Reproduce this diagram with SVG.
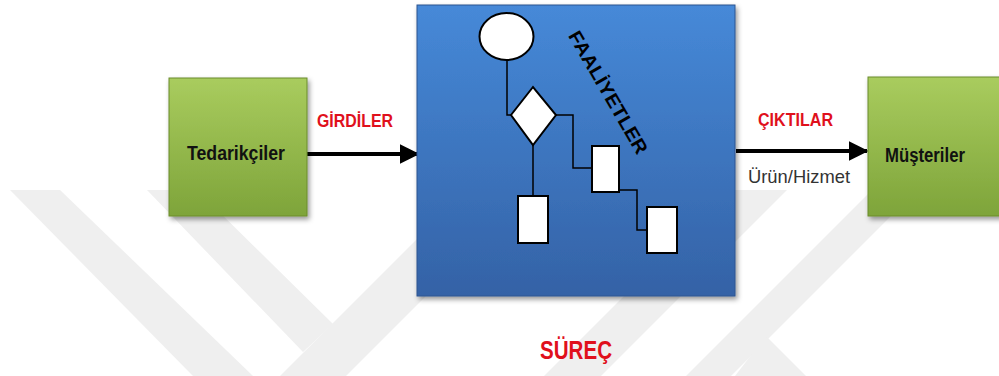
<svg xmlns="http://www.w3.org/2000/svg" width="999" height="376" viewBox="0 0 999 376">
<defs>
<linearGradient id="gGreen" x1="0" y1="0" x2="0" y2="1">
<stop offset="0" stop-color="#a9cc5e"/>
<stop offset="1" stop-color="#7ea43a"/>
</linearGradient>
<linearGradient id="gBlue" x1="0" y1="0" x2="0" y2="1">
<stop offset="0" stop-color="#4689d8"/>
<stop offset="1" stop-color="#3462a6"/>
</linearGradient>
<filter id="sh" x="-10%" y="-10%" width="125%" height="125%">
<feDropShadow dx="2" dy="3" stdDeviation="2.5" flood-color="#000" flood-opacity="0.4"/>
</filter>
<marker id="ah" markerWidth="5" markerHeight="5" refX="4.6" refY="2.5" orient="auto" markerUnits="strokeWidth">
<path d="M0,0 L5,2.5 L0,5 z" fill="#000"/>
</marker>
<style>
.lbl{font-family:"Liberation Sans",Arial,sans-serif;font-weight:bold;}
.red{fill:#e0101c;font-size:19px;}
.box{font-size:20px;fill:#111;}
.shape{fill:#fff;stroke:#000;stroke-width:2;}
.flow{fill:none;stroke:#000;stroke-width:1.5;}
.wm{fill:#efefef;}
</style>
</defs>
<rect width="999" height="376" fill="#fff"/>
<g id="watermark">
<polygon class="wm" points="10,190 60,190 253,376 193,376"/>
<polygon class="wm" points="147,190 197,190 333,324 303,352"/>
<polygon class="wm" points="430,226 430,292 346,376 280,376"/>
<polygon class="wm" points="730,190 787,190 601,376 544,376"/>
<polygon class="wm" points="872,190 917,190 731,376 686,376"/>
<polygon class="wm" points="755,350 767,337 806,376 735,376"/>
</g>
<g id="connectors">
<line x1="307" y1="154" x2="418" y2="154" stroke="#000" stroke-width="4" marker-end="url(#ah)"/>
<line x1="736" y1="151" x2="867" y2="151" stroke="#000" stroke-width="4" marker-end="url(#ah)"/>
</g>
<g id="tedarikciler">
<rect x="169" y="78" width="138" height="138" fill="url(#gGreen)" stroke="#6b8c2c" stroke-width="1" filter="url(#sh)"/>
<text class="lbl box" x="187" y="160" textLength="98" lengthAdjust="spacingAndGlyphs">Tedarikçiler</text>
</g>
<g id="surec">
<rect x="417" y="5" width="318" height="291" fill="url(#gBlue)" stroke="#2d5590" stroke-width="1" filter="url(#sh)"/>
<polyline class="flow" points="507,60 507,115 512,115"/>
<polyline class="flow" points="533,145 533,196"/>
<polyline class="flow" points="556,115 573,115 573,168 592,168"/>
<polyline class="flow" points="619,190 637,190 637,230 647,230"/>
<ellipse class="shape" cx="506.5" cy="36.5" rx="27" ry="23.5"/>
<polygon class="shape" points="511,115 533,87 556,115 533,145"/>
<rect class="shape" x="518" y="196" width="30" height="47"/>
<rect class="shape" x="592" y="146" width="27" height="46"/>
<rect class="shape" x="647" y="207" width="30" height="46"/>
<text class="lbl" x="538" y="93" font-size="19" fill="#000" transform="rotate(60 608 93)" dy="6" textLength="139" lengthAdjust="spacingAndGlyphs">FAALİYETLER</text>
<text class="lbl" x="540" y="359" font-size="26" fill="#e0101c" textLength="72" lengthAdjust="spacingAndGlyphs">SÜREÇ</text>
</g>
<g id="musteriler">
<rect x="868" y="77" width="140" height="139" fill="url(#gGreen)" stroke="#6b8c2c" stroke-width="1" filter="url(#sh)"/>
<text class="lbl box" x="885" y="162" textLength="80" lengthAdjust="spacingAndGlyphs">Müşteriler</text>
</g>
<g id="labels">
<text class="lbl red" x="317" y="127" textLength="76" lengthAdjust="spacingAndGlyphs">GİRDİLER</text>
<text class="lbl red" x="758" y="126" textLength="75" lengthAdjust="spacingAndGlyphs">ÇIKTILAR</text>
<text x="748" y="183" font-family="Liberation Sans, Arial, sans-serif" font-size="19" fill="#333" textLength="102" lengthAdjust="spacingAndGlyphs">Ürün/Hizmet</text>
</g>
</svg>
